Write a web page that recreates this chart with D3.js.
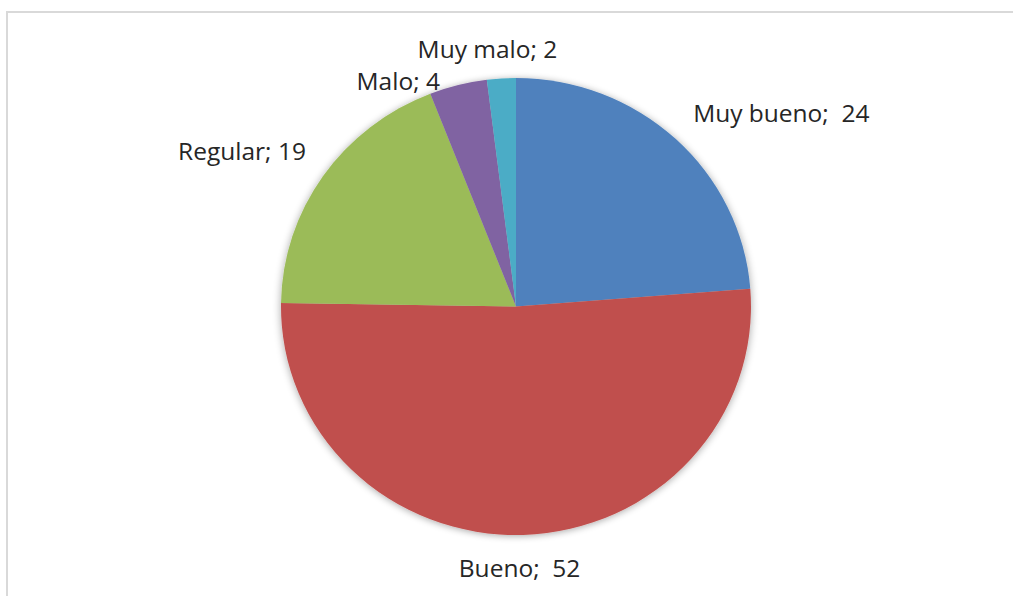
<!DOCTYPE html>
<html>
<head>
<meta charset="utf-8">
<script src="https://cdnjs.cloudflare.com/ajax/libs/d3/7.8.5/d3.min.js"></script>
<style>
  html, body { margin: 0; padding: 0; background: #fff; }
  svg { display: block; }
</style>
</head>
<body>
<svg id="chart" width="1013" height="596"></svg>
<script>
// Survey rating counts, drawn clockwise from 12 o'clock
const categories = ["Muy bueno", "Bueno", "Regular", "Malo", "Muy malo"];
const values = [24, 52, 19, 4, 2];
const separators = [";  ", ";  ", "; ", "; ", "; "];
const colors = ["#4F81BD", "#C0504D", "#9BBB59", "#8064A2", "#4BACC6"];

const W = 1013, H = 596;
const cx = 516, cy = 306.5, rx = 235, ry = 228.5;
const labelGap = 17;
// small manual nudges for label placement
const labelNudge = [[6, 3], [-9, -1], [-3, 0], [-30, 28], [-2, 4]];

const svg = d3.select("#chart");

// chart area frame
svg.append("rect")
  .attr("x", 7).attr("y", 12)
  .attr("width", W + 20).attr("height", H + 20)
  .attr("fill", "#fff")
  .attr("stroke", "#d9d9d9").attr("stroke-width", 2);

const defs = svg.append("defs");
const f = defs.append("filter").attr("id", "shadow")
  .attr("x", "-10%").attr("y", "-10%").attr("width", "120%").attr("height", "120%");
f.append("feGaussianBlur").attr("in", "SourceAlpha").attr("stdDeviation", 4).attr("result", "b");
f.append("feOffset").attr("in", "b").attr("dx", 0).attr("dy", 1).attr("result", "o");
f.append("feComponentTransfer").attr("in", "o").attr("result", "s")
  .append("feFuncA").attr("type", "linear").attr("slope", 0.35);
const m = f.append("feMerge");
m.append("feMergeNode").attr("in", "s");
m.append("feMergeNode").attr("in", "SourceGraphic");

const data = categories.map((c, i) => ({ name: c, value: values[i], color: colors[i], sep: separators[i], i }));

const pie = d3.pie().value(d => d.value).sort(null);
const arcs = pie(data);
const arc = d3.arc().innerRadius(0).outerRadius(rx);

const g = svg.append("g")
  .attr("transform", `translate(${cx},${cy}) scale(1,${ry / rx})`)
  .attr("filter", "url(#shadow)");

g.selectAll("path").data(arcs).join("path")
  .attr("d", arc)
  .attr("fill", d => d.data.color);

// labels placed just outside each slice's mid-angle
const clamp = v => Math.max(-1, Math.min(1, v));
const lg = svg.append("g");
arcs.forEach(a => {
  const mid = (a.startAngle + a.endAngle) / 2;
  const s = Math.sin(mid), c = Math.cos(mid);
  const px = cx + s * (rx + labelGap);
  const py = cy - c * (ry + labelGap);
  const t = lg.append("text")
    .attr("font-family", "'Open Sans', sans-serif")
    .attr("font-size", 24.5)
    .attr("fill", "#262626")
    .attr("xml:space", "preserve")
    .style("white-space", "pre")
    .text(a.data.name + a.data.sep + a.data.value);
  const bb = t.node().getBBox();
  const tx = clamp(s * 2.5), ty = clamp(c * 2.5);
  const left = px - bb.width * (1 - tx) / 2 + labelNudge[a.data.i][0];
  const top = py - bb.height * (1 + ty) / 2 + labelNudge[a.data.i][1];
  t.attr("x", left - bb.x).attr("y", top - bb.y);
});
</script>
</body>
</html>
